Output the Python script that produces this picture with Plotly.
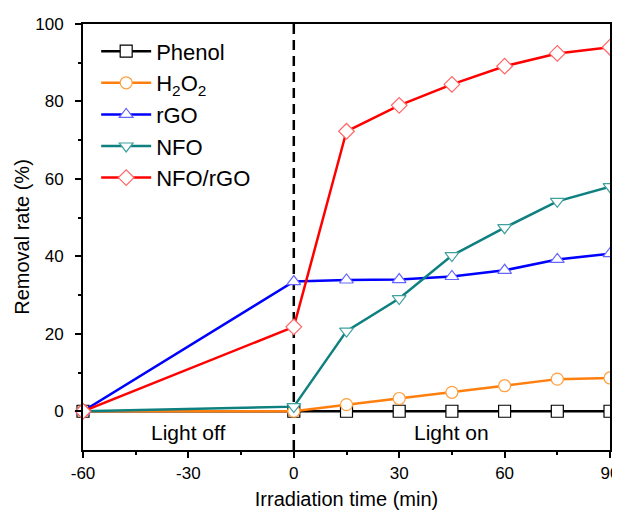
import plotly.graph_objects as go

time = [-60, 0, 15, 30, 45, 60, 75, 90]
phenol = [0, 0, 0, 0, 0, 0, 0, 0]
h2o2 = [0, 0, 1.7, 3.3, 4.9, 6.6, 8.3, 8.6]
rgo = [0, 33.5, 33.9, 34.0, 34.8, 36.4, 39.2, 40.7]
nfo = [0, 1.2, 20.7, 29.1, 40.2, 47.4, 54.2, 58.0]
nfo_rgo = [0, 21.8, 72.3, 79.0, 84.4, 89.1, 92.4, 94.0]

x_ticks = [-60, -30, 0, 30, 60, 90]
x_ticktext = ["-60", "-30", "0", "30", "60", "90"]
y_ticks = [0, 20, 40, 60, 80, 100]

series = [
    ("Phenol", phenol, "#000000", "#000000", "square"),
    ("H<sub>2</sub>O<sub>2</sub>", h2o2, "#FF7F0E", "#FFA040", "circle"),
    ("rGO", rgo, "#0000FF", "#6666FF", "triangle-up"),
    ("NFO", nfo, "#0E8080", "#40A0A0", "triangle-down"),
    ("NFO/rGO", nfo_rgo, "#FF0000", "#FF6666", "diamond"),
]

FONT = "Arial, Liberation Sans, sans-serif"

fig = go.Figure()
for name, vals, lc, mc, sym in series:
    fig.add_trace(go.Scatter(
        x=time, y=vals, name=name, mode="lines+markers",
        line=dict(color=lc, width=2.5),
        marker=dict(symbol=sym, size=12, color="white",
                    line=dict(color=mc, width=1.2)),
        cliponaxis=False,
    ))

fig.add_shape(type="line", x0=0, x1=0, y0=-10, y1=100, xref="x", yref="y",
              line=dict(color="black", width=2.5, dash="10px,6px"), layer="below")

fig.add_annotation(x=-30, y=-5.5, text="Light off", showarrow=False,
                   font=dict(family=FONT, size=21, color="black"))
fig.add_annotation(x=45, y=-5.5, text="Light on", showarrow=False,
                   font=dict(family=FONT, size=21, color="black"))

fig.update_layout(
    width=612, height=507,
    margin=dict(l=75, r=10, t=16, b=65),
    paper_bgcolor="white", plot_bgcolor="white",
    font=dict(family=FONT, size=17, color="black"),
    legend=dict(x=0.025, y=0.985, xanchor="left", yanchor="top",
                bgcolor="rgba(0,0,0,0)", font=dict(family=FONT, size=22),
                tracegroupgap=0, itemwidth=50),
    showlegend=True,
)
fig.update_xaxes(
    range=[-60, 90], tickvals=x_ticks, ticktext=x_ticktext,
    automargin=False,
    showgrid=False, zeroline=False,
    showline=True, linecolor="black", linewidth=1.8, mirror=True,
    ticks="outside", ticklen=6, tickwidth=1.5, tickcolor="black",
    ticklabelstandoff=1,
    minor=dict(tickvals=[-45, -15, 15, 45, 75], ticks="outside", ticklen=3,
               tickwidth=1.5, tickcolor="black"),
    title=dict(text="Irradiation time (min)", font=dict(family=FONT, size=20), standoff=10),
    tickfont=dict(family=FONT, size=17),
)
fig.update_yaxes(
    range=[-10, 100], tickvals=y_ticks,
    automargin=False,
    showgrid=False, zeroline=False,
    showline=True, linecolor="black", linewidth=1.8, mirror=True,
    ticks="outside", ticklen=6, tickwidth=1.5, tickcolor="black",
    ticklabelstandoff=8,
    minor=dict(tickvals=[10, 30, 50, 70, 90], ticks="outside", ticklen=3,
               tickwidth=1.5, tickcolor="black"),
    title=dict(text="Removal rate (%)", font=dict(family=FONT, size=20), standoff=0),
    tickfont=dict(family=FONT, size=17),
)

fig.write_html("out.html")
